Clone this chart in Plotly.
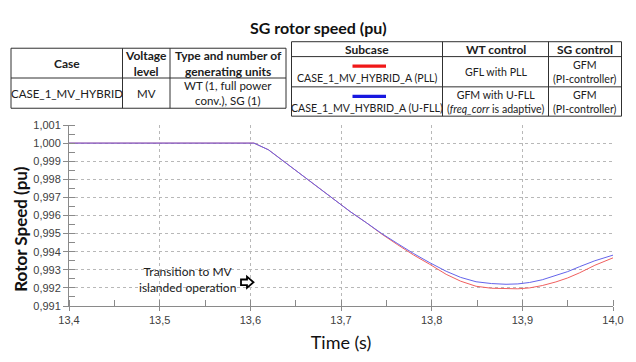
import plotly.graph_objects as go

# ---- data ----
time_s = [13.40, 13.604, 13.620, 13.638, 13.656, 13.674, 13.692, 13.710, 13.728, 13.745,
          13.762, 13.780, 13.798, 13.816, 13.832, 13.849, 13.866, 13.882, 13.895, 13.908,
          13.922, 13.937, 13.950, 13.963, 13.980, 14.0]
speed_ufll = [1.0, 1.0, 0.99963, 0.99895, 0.99827, 0.99759, 0.99691, 0.99622, 0.9956, 0.99500,
              0.99446, 0.99390, 0.99339, 0.99292, 0.99258, 0.99234, 0.99224, 0.99220, 0.99222, 0.99230,
              0.99245, 0.99267, 0.99290, 0.99317, 0.99350, 0.99381]
speed_pll = [1.0, 1.0, 0.99963, 0.99895, 0.99827, 0.99759, 0.99691, 0.99622, 0.9956, 0.99497,
             0.99440, 0.99382, 0.99330, 0.99275, 0.99237, 0.99209, 0.99198, 0.99195, 0.99195, 0.99200,
             0.99213, 0.99233, 0.99255, 0.99283, 0.99325, 0.99366]

series_names = ["CASE_1_MV_HYBRID_A (PLL)", "CASE_1_MV_HYBRID_A (U-FLL)"]
line_colors = ["rgb(240,95,95)", "rgb(100,100,235)"]
swatch_colors = ["#f01818", "#1818e0"]

left_headers = ["<b>Case</b>", "<b>Voltage<br>level</b>", "<b>Type and number of<br>generating units</b>"]
left_row = ["CASE_1_MV_HYBRID", "MV", "WT (1, full power<br>conv.), SG (1)"]
right_headers = ["<b>Subcase</b>", "<b>WT control</b>", "<b>SG control</b>"]
wt_control = ["GFL with PLL", "GFM with U-FLL<br>(<i>freq_corr</i> is adaptive)"]
sg_control = ["GFM<br>(PI-controller)", "GFM<br>(PI-controller)"]

W, H = 636, 362
L, R, T, B = 69, 613, 124.5, 319


def px(x):
    return (x - L) / (R - L)


def py(y):
    return (B - y) / (B - T)


FONT = "Lato"

fig = go.Figure()
fig.add_trace(go.Scatter(x=time_s, y=speed_pll, mode="lines", name=series_names[0],
                         line=dict(color=line_colors[0], width=1)))
fig.add_trace(go.Scatter(x=time_s, y=speed_ufll, mode="lines", name=series_names[1],
                         line=dict(color=line_colors[1], width=1)))

shapes = []
annots = []


def rect_line(x0, y0, x1, y1):
    shapes.append(dict(type="line", xref="paper", yref="paper", x0=px(x0), y0=py(y0),
                       x1=px(x1), y1=py(y1), line=dict(color="#303030", width=1)))


def text(x, y, s, size=11.5):
    annots.append(dict(xref="paper", yref="paper", x=px(x), y=py(y), text=s, showarrow=False,
                       xanchor="center", yanchor="middle",
                       font=dict(family=FONT, size=size, color="#202020"), align="center"))


# left table
lx = [11, 122.5, 170, 286]
ly = [42, 74, 106.5]
for y in ly:
    rect_line(lx[0], y, lx[-1], y)
for x in lx:
    rect_line(x, ly[0], x, ly[-1])
for i in range(3):
    cx = (lx[i] + lx[i + 1]) / 2
    text(cx, (ly[0] + ly[1]) / 2, left_headers[i], size=12)
    text(cx, (ly[1] + ly[2]) / 2, left_row[i], size=11.5)

# right table
rx = [291.5, 442.5, 548.5, 621.5]
ry = [35, 51, 83.5, 115]
for y in ry:
    rect_line(rx[0], y, rx[-1], y)
for x in rx:
    rect_line(x, ry[0], x, ry[-1])
for i in range(3):
    text((rx[i] + rx[i + 1]) / 2, (ry[0] + ry[1]) / 2 + 0.5, right_headers[i], size=12)
for r in range(2):
    y0, y1 = ry[r + 1], ry[r + 2]
    cy = (y0 + y1) / 2
    shapes.append(dict(type="rect", xref="paper", yref="paper",
                       x0=px(352.5), x1=px(386), y0=py(y0 + 8.5), y1=py(y0 + 12),
                       line=dict(width=0), fillcolor=swatch_colors[r]))
    text((rx[0] + rx[1]) / 2, y0 + 23, series_names[r], size=10.6)
    text((rx[1] + rx[2]) / 2, cy, wt_control[r], size=10.6)
    text((rx[2] + rx[3]) / 2, cy, sg_control[r], size=10.6)

# title
annots.append(dict(xref="paper", yref="paper", x=px(318), y=py(20), text="<b>SG rotor speed (pu)</b>",
                   showarrow=False, xanchor="center", yanchor="middle",
                   font=dict(family=FONT, size=16, color="#111")))

# y-axis title
annots.append(dict(xref="paper", yref="paper", x=px(21), y=py(236), text="<b>Rotor Speed (pu)</b>",
                   showarrow=False, xanchor="center", yanchor="middle", textangle=-90,
                   font=dict(family=FONT, size=17, color="#111")))

# in-plot annotation
annots.append(dict(xref="paper", yref="paper", x=px(187), y=py(291),
                   text="Transition to MV<br>islanded operation", showarrow=False,
                   xanchor="center", yanchor="middle",
                   font=dict(family=FONT, size=12, color="#202020")))
arrow_pts = [(241, 290.5), (247, 290.5), (247, 287.5), (253.5, 293.5), (247, 299.5), (247, 296.5), (241, 296.5)]
path = "M " + " L ".join(f"{px(x):.5f},{py(y):.5f}" for x, y in arrow_pts) + " Z"
shapes.append(dict(type="path", xref="paper", yref="paper", path=path,
                   line=dict(color="#000", width=1.8), fillcolor="white"))

fig.update_layout(
    width=W, height=H,
    margin=dict(l=L, r=W - R, t=T, b=H - B, pad=0),
    paper_bgcolor="white", plot_bgcolor="white",
    showlegend=False,
    separators=", ",
    shapes=shapes, annotations=annots,
    font=dict(family="Liberation Sans", size=11, color="#404040"),
)
fig.update_xaxes(range=[13.4, 14.0], dtick=0.1, tick0=13.4, tickformat=".1f",
                 showgrid=True, gridcolor="#b8b8b8", griddash="dot", gridwidth=1,
                 showline=True, linecolor="#8a8a8a", linewidth=1,
                 ticks="outside", ticklen=4, tickcolor="#8a8a8a",
                 minor=dict(ticks="inside", ticklen=6, dtick=0.05, tickcolor="#8a8a8a", showgrid=False),
                 zeroline=False,
                 title=dict(text="Time (s)", font=dict(family=FONT, size=18, color="#111"), standoff=11),
                 tickfont=dict(family="Liberation Sans", size=11, color="#404040"))
fig.update_yaxes(range=[0.991, 1.001], dtick=0.001, tick0=0.991, tickformat=".3f",
                 showgrid=True, gridcolor="#b8b8b8", griddash="dot", gridwidth=1,
                 showline=True, linecolor="#8a8a8a", linewidth=1,
                 ticks="outside", ticklen=5, tickcolor="#8a8a8a",
                 minor=dict(ticks="inside", ticklen=6, dtick=0.0005, tickcolor="#8a8a8a", showgrid=False),
                 zeroline=False,
                 tickfont=dict(family="Liberation Sans", size=11, color="#404040"))

fig.write_html("out.html")
